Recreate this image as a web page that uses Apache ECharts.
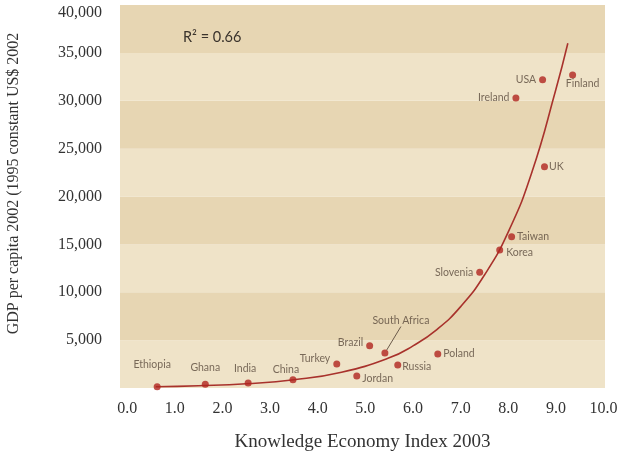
<!DOCTYPE html>
<html>
<head>
<meta charset="utf-8">
<script src="https://cdn.jsdelivr.net/npm/echarts@6/dist/echarts.min.js"></script>
<style>html,body{margin:0;padding:0;background:#fff}#c{width:624px;height:452px}</style>
</head>
<body>
<div id="c"></div>
<script>
// Data
const countries = ['Ethiopia','Ghana','India','China','Turkey','Jordan','Brazil','South Africa','Russia','Poland','Slovenia','Korea','Taiwan','UK','Ireland','USA','Finland'];
const kei = [0.63, 1.64, 2.54, 3.48, 4.40, 4.82, 5.09, 5.41, 5.68, 6.52, 7.40, 7.82, 8.07, 8.76, 8.16, 8.72, 9.35];
const gdp = [120, 380, 520, 850, 2500, 1250, 4400, 3650, 2400, 3550, 12100, 14400, 15800, 23100, 30300, 32200, 32700];
// Trend curve
const trendX = [0.6, 1.5, 2.5, 3.5, 4.5, 5.5, 6.0, 6.5, 7.0, 7.5, 8.0, 8.5, 9.0, 9.25];
const trendY = [130, 240, 450, 860, 1650, 3150, 4400, 6100, 8500, 11800, 16300, 22600, 31200, 36000];
const xTicks = [0,1,2,3,4,5,6,7,8,9,10];
const yTicks = [5000,10000,15000,20000,25000,30000,35000,40000];
const r2Text = 'R\u00b2 = 0.66';

// Label placement (styling, kept apart from the data)
const labelPlace = {
  'Ethiopia': {position:'top', distance:13, shift:[-5,0]},
  'Ghana': {position:'top', distance:8},
  'India': {position:'top', distance:5, shift:[-3,0]},
  'China': {position:'top', distance:1, shift:[-7,0]},
  'Turkey': {position:'left', distance:3, shift:[0,-5]},
  'Jordan': {position:'right', distance:2, shift:[0,3]},
  'Brazil': {position:'left', distance:3, shift:[0,-3]},
  'South Africa': {position:'top', distance:3, shift:[16,-20]},
  'Russia': {position:'right', distance:1, shift:[0,2]},
  'Poland': {position:'right', distance:2},
  'Slovenia': {position:'left', distance:3},
  'Korea': {position:'right', distance:3, shift:[0,2]},
  'Taiwan': {position:'right', distance:2},
  'UK': {position:'right', distance:1},
  'Ireland': {position:'left', distance:3},
  'USA': {position:'left', distance:3},
  'Finland': {position:'bottom', distance:1, shift:[10,-1]}
};

const chart = echarts.init(document.getElementById('c'), null, {renderer:'canvas'});
const serif = '"Liberation Serif","DejaVu Serif",serif';
const pts = countries.map((n,i)=>{
  const p = labelPlace[n];
  const item = {name:n, value:[kei[i], gdp[i]], label:{position:p.position, distance:p.distance}};
  if (n === 'South Africa') item.labelLine = {show:true, lineStyle:{color:'#6b5a4a', width:1}};
  return item;
});

chart.setOption({
  animation:false,
  backgroundColor:'#ffffff',
  title:{text:r2Text, left:178, top:25, textStyle:{fontFamily:'Lato, sans-serif', fontSize:14.5, fontWeight:'normal', color:'#3a332c'}},
  grid:{left:120, right:19, top:5, bottom:64, containLabel:false, outerBoundsMode:'none'},
  xAxis:{
    type:'value', min:-0.15, max:10.03,
    name:'Knowledge Economy Index 2003', nameLocation:'middle', nameGap:45,
    nameTextStyle:{fontFamily:serif, fontSize:19, color:'#333'},
    axisLine:{show:false}, axisTick:{show:false}, splitLine:{show:false},
    axisLabel:{customValues:xTicks, formatter:v=>v.toFixed(1), fontFamily:serif, fontSize:16, color:'#333', margin:13}
  },
  yAxis:{
    type:'value', min:0, max:40000, interval:5000,
    name:'GDP per capita 2002 (1995 constant US$ 2002', nameLocation:'middle', nameRotate:90, nameGap:98,
    nameTextStyle:{fontFamily:serif, fontSize:16, color:'#333', padding:[0,0,0,26]},
    axisLine:{show:false}, axisTick:{show:false}, splitLine:{show:false},
    splitArea:{show:true, areaStyle:{color:['#efe3c8','#e7d6b3']}},
    axisLabel:{customValues:yTicks, formatter:v=>v.toLocaleString('en-US'), fontFamily:serif, fontSize:16, color:'#333', margin:18, verticalAlignMaxLabel:'top'}
  },
  series:[
    {
      type:'line', data:trendX.map((x,i)=>[x,trendY[i]]), smooth:true, symbol:'none',
      lineStyle:{color:'#a8322c', width:1.6}, z:2
    },
    {
      type:'scatter', data:pts, symbolSize:7, itemStyle:{color:'#b0241f'}, z:3,
      label:{show:true, formatter:p=>p.name, fontFamily:'Lato, sans-serif', fontSize:10.5, color:'#5a4a3c'},
      labelLayout:function(params){
        const s = labelPlace[countries[params.dataIndex]].shift;
        return s ? {dx:s[0], dy:s[1]} : {};
      },
      labelLine:{show:false}
    }
  ]
});
</script>
</body>
</html>
